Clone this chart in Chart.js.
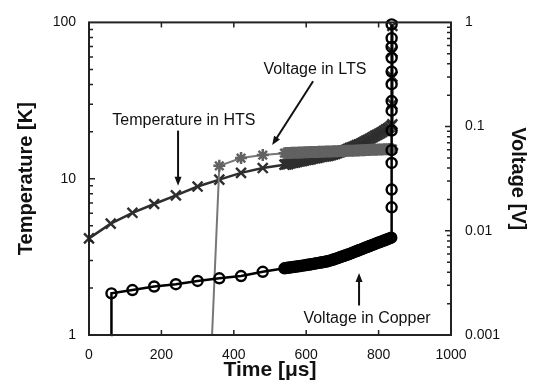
<!DOCTYPE html>
<html>
<head>
<meta charset="utf-8">
<script src="https://cdn.jsdelivr.net/npm/chart.js@4.4.0/dist/chart.umd.min.js"></script>
<style>
  body { margin: 0; background: #fff; }
  canvas { display: block; }
</style>
</head>
<body>
<canvas id="myChart" width="536" height="383"></canvas>
<script>
'use strict'

// temperature in the HTS tape [K], left axis
const htsTime = [0, 60, 120, 180, 240, 300, 360, 420, 480,
  540, 545, 550, 555, 560, 565, 570, 575, 580, 585,
  590, 595, 600, 605, 610, 615, 620, 625, 630, 635,
  640, 645, 650, 655, 660, 665, 670, 675, 680, 685,
  690, 695, 700, 705, 710, 715, 720, 725, 730, 735,
  740, 745, 750, 755, 760, 765, 770, 775, 780, 785,
  790, 795, 800, 805, 810, 815, 820, 825, 830, 835,
  838, 838, 838, 838, 838];
const htsTemp = [4.15, 5.16, 6.05, 6.89, 7.82, 8.91, 9.86, 10.9, 11.7,
  12.3, 12.35, 12.4, 12.5, 12.6, 12.65, 12.7, 12.8, 12.9, 12.95,
  13.0, 13.1, 13.2, 13.25, 13.3, 13.4, 13.5, 13.55, 13.6, 13.7,
  13.8, 13.85, 13.9, 13.95, 14.0, 14.1, 14.2, 14.3, 14.4, 14.55,
  14.7, 14.85, 15.0, 15.15, 15.3, 15.5, 15.7, 15.85, 16.0, 16.2,
  16.4, 16.55, 16.7, 16.95, 17.2, 17.45, 17.7, 17.95, 18.2, 18.5,
  18.8, 19.05, 19.3, 19.6, 19.9, 20.25, 20.6, 20.95, 21.3, 21.8,
  22.3, 30, 45, 65, 95];

// voltage in the LTS [V], right axis
const ltsTime = [340, 360, 420, 480,
  540, 545, 550, 555, 560, 565, 570, 575, 580, 585,
  590, 595, 600, 605, 610, 615, 620, 625, 630, 635,
  640, 645, 650, 655, 660, 665, 670, 675, 680, 685,
  690, 695, 700, 705, 710, 715, 720, 725, 730, 735,
  740, 745, 750, 755, 760, 765, 770, 775, 780, 785,
  790, 795, 800, 805, 810, 815, 820, 825, 830, 835, 838];
const ltsVolt = [0.001, 0.042, 0.0499, 0.0533,
  0.0556, 0.0557, 0.0558, 0.0559, 0.0560, 0.0561, 0.0562, 0.0562, 0.0563, 0.0564,
  0.0565, 0.0566, 0.0567, 0.0568, 0.0569, 0.0569, 0.0570, 0.0571, 0.0572, 0.0573,
  0.0574, 0.0574, 0.0575, 0.0576, 0.0577, 0.0577, 0.0578, 0.0579, 0.0580, 0.0581,
  0.0582, 0.0582, 0.0583, 0.0584, 0.0585, 0.0586, 0.0587, 0.0587, 0.0588, 0.0589,
  0.0590, 0.0591, 0.0592, 0.0593, 0.0594, 0.0595, 0.0596, 0.0597, 0.0598, 0.0599,
  0.0600, 0.0601, 0.0602, 0.0603, 0.0604, 0.0605, 0.0606, 0.0607, 0.0608, 0.0609, 0.0610];

// voltage in the copper [V], right axis
const cuTime = [61, 62, 120, 180, 240, 300, 360, 420, 480,
  540, 545, 550, 555, 560, 565, 570, 575, 580, 585,
  590, 595, 600, 605, 610, 615, 620, 625, 630, 635,
  640, 645, 650, 655, 660, 665, 670, 675, 680, 685,
  690, 695, 700, 705, 710, 715, 720, 725, 730, 735,
  740, 745, 750, 755, 760, 765, 770, 775, 780, 785,
  790, 795, 800, 805, 810, 815, 820, 825, 830, 835,
  836, 836, 836, 836, 836, 836, 836, 836, 836, 836, 836, 836, 836];
const cuVolt = [0.001, 0.00251, 0.0027, 0.00292, 0.00307, 0.0033, 0.0035, 0.00368, 0.00404,
  0.00437, 0.00440, 0.00442, 0.00445, 0.00447, 0.00450, 0.00452, 0.00455, 0.00457, 0.00460,
  0.00463, 0.00466, 0.00469, 0.00472, 0.00475, 0.00478, 0.00482, 0.00485, 0.00489, 0.00492,
  0.00496, 0.00499, 0.00503, 0.00507, 0.00511, 0.00517, 0.00523, 0.00530, 0.00537, 0.00544,
  0.00552, 0.00560, 0.00568, 0.00576, 0.00584, 0.00592, 0.00601, 0.00610, 0.00620, 0.00630,
  0.00640, 0.00650, 0.00660, 0.00670, 0.00681, 0.00692, 0.00703, 0.00714, 0.00725, 0.00736,
  0.00748, 0.00760, 0.00771, 0.00783, 0.00795, 0.00807, 0.00820, 0.00832, 0.00845, 0.00858,
  0.0168, 0.0249, 0.0448, 0.0594, 0.0916, 0.142, 0.176, 0.255, 0.337, 0.457, 0.581, 0.706, 0.957];

const timeTicks = [0, 200, 400, 600, 800, 1000];
const tempTicks = [1, 2, 3, 4, 5, 6, 7, 8, 9, 10, 20, 30, 40, 50, 60, 70, 80, 90, 100];
const tempLabels = {1: '1', 10: '10', 100: '100'};
const voltTicks = [0.001, 0.002, 0.003, 0.004, 0.005, 0.006, 0.007, 0.008, 0.009,
  0.01, 0.02, 0.03, 0.04, 0.05, 0.06, 0.07, 0.08, 0.09,
  0.1, 0.2, 0.3, 0.4, 0.5, 0.6, 0.7, 0.8, 0.9, 1];
const voltLabels = {0.001: '0.001', 0.01: '0.01', 0.1: '0.1', 1: '1'};

const FONT = '"Liberation Sans", Arial, sans-serif';
Chart.defaults.font.family = FONT;
Chart.defaults.color = '#111';

function toPoints(xs, ys){
  return xs.map((x, i) => ({x: x, y: ys[i]}));
}

function drawArrow(ctx, x1, y1, x2, y2){
  const ang = Math.atan2(y2 - y1, x2 - x1);
  const len = 9, half = 3.5;
  ctx.beginPath();
  ctx.moveTo(x1, y1);
  ctx.lineTo(x2 - Math.cos(ang) * len * 0.8, y2 - Math.sin(ang) * len * 0.8);
  ctx.stroke();
  ctx.beginPath();
  ctx.moveTo(x2, y2);
  ctx.lineTo(x2 - Math.cos(ang) * len - Math.sin(ang) * half, y2 - Math.sin(ang) * len + Math.cos(ang) * half);
  ctx.lineTo(x2 - Math.cos(ang) * len + Math.sin(ang) * half, y2 - Math.sin(ang) * len - Math.cos(ang) * half);
  ctx.closePath();
  ctx.fill();
}

// frame, inward tick marks and the three labels with arrows
const frameAndNotes = {
  id: 'frameAndNotes',
  afterDatasetsDraw(chart){
    const ctx = chart.ctx;
    const a = chart.chartArea;
    const xs = chart.scales.x, yT = chart.scales.yT, yV = chart.scales.yV;
    ctx.save();
    ctx.strokeStyle = '#222';
    ctx.lineWidth = 2;
    ctx.strokeRect(a.left, a.top, a.right - a.left, a.bottom - a.top);

    ctx.lineWidth = 1.5;
    ctx.beginPath();
    for (let v of timeTicks.slice(1, -1)){
      const px = xs.getPixelForValue(v);
      ctx.moveTo(px, a.bottom); ctx.lineTo(px, a.bottom - 5);
      ctx.moveTo(px, a.top); ctx.lineTo(px, a.top + 5);
    }
    for (let v of tempTicks.slice(1, -1)){
      const py = yT.getPixelForValue(v);
      const len = tempLabels[v] ? 6 : 4;
      ctx.moveTo(a.left, py); ctx.lineTo(a.left + len, py);
    }
    for (let v of voltTicks.slice(1, -1)){
      const py = yV.getPixelForValue(v);
      const len = voltLabels[v] ? 6 : 4;
      ctx.moveTo(a.right, py); ctx.lineTo(a.right - len, py);
    }
    ctx.stroke();

    ctx.fillStyle = '#111';
    ctx.strokeStyle = '#111';
    ctx.lineWidth = 2;
    ctx.font = '16px ' + FONT;
    ctx.textAlign = 'center';
    ctx.textBaseline = 'middle';

    ctx.fillText('Temperature in HTS', xs.getPixelForValue(262), yT.getPixelForValue(23.5));
    drawArrow(ctx, xs.getPixelForValue(246), yT.getPixelForValue(20.3),
      xs.getPixelForValue(246), yT.getPixelForValue(9.0));

    ctx.fillText('Voltage in LTS', xs.getPixelForValue(624), yT.getPixelForValue(49.9));
    drawArrow(ctx, xs.getPixelForValue(619), yT.getPixelForValue(42),
      xs.getPixelForValue(506), yT.getPixelForValue(16.4));

    ctx.fillText('Voltage in Copper', xs.getPixelForValue(768), yV.getPixelForValue(0.00145));
    drawArrow(ctx, xs.getPixelForValue(746), yV.getPixelForValue(0.00192),
      xs.getPixelForValue(746), yV.getPixelForValue(0.00393));
    ctx.restore();
  }
};

const ctx = document.getElementById('myChart').getContext('2d');

const myChart = new Chart(ctx, {
  type: 'line',
  data: {
    datasets: [
      {
        label: 'Voltage in Copper',
        data: toPoints(cuTime, cuVolt),
        yAxisID: 'yV',
        order: 0,
        borderColor: '#000',
        borderWidth: 2.5,
        pointStyle: 'circle',
        pointRadius: c => c.dataIndex === 0 ? 0 : 5,
        pointBorderWidth: 2.4,
        pointBorderColor: '#000',
        pointBackgroundColor: 'rgba(0,0,0,0)'
      },
      {
        label: 'Voltage in LTS',
        data: toPoints(ltsTime, ltsVolt),
        yAxisID: 'yV',
        order: 1,
        borderColor: '#777',
        borderWidth: 2,
        pointStyle: 'star',
        pointRadius: c => c.dataIndex === 0 ? 0 : 6,
        pointBorderWidth: 2.5,
        pointBorderColor: '#626262',
        pointBackgroundColor: '#626262'
      },
      {
        label: 'Temperature in HTS',
        data: toPoints(htsTime, htsTemp),
        yAxisID: 'yT',
        order: 2,
        borderColor: '#2e2e2e',
        borderWidth: 2.5,
        pointStyle: 'crossRot',
        pointRadius: 7,
        pointBorderWidth: 2.4,
        pointBorderColor: '#2e2e2e',
        pointBackgroundColor: '#2e2e2e'
      }
    ]
  },
  options: {
    responsive: false,
    devicePixelRatio: 1,
    animation: false,
    clip: false,
    layout: { padding: { top: 17, left: 0, right: 0, bottom: 0 } },
    elements: { line: { tension: 0 } },
    plugins: { legend: { display: false }, tooltip: { enabled: false } },
    scales: {
      x: {
        type: 'linear',
        min: 0,
        max: 1000,
        afterBuildTicks: s => { s.ticks = timeTicks.map(v => ({value: v})); },
        ticks: { font: { size: 14 }, padding: 12, maxRotation: 0, autoSkip: false, callback: v => String(v) },
        grid: { display: false, drawTicks: false },
        border: { display: false },
        title: { display: true, text: 'Time [μs]', font: { size: 21, weight: 'bold' }, padding: { top: 0, bottom: 0 } },
        afterFit: s => { s.height = 48; }
      },
      yT: {
        type: 'logarithmic',
        position: 'left',
        min: 1,
        max: 100,
        afterBuildTicks: s => { s.ticks = tempTicks.map(v => ({value: v})); },
        ticks: { font: { size: 14 }, padding: 13, autoSkip: false, callback: v => tempLabels[v] || '' },
        grid: { display: false, drawTicks: false },
        border: { display: false },
        title: { display: true, text: 'Temperature [K]', font: { size: 20, weight: 'bold' }, padding: { top: 14, bottom: 0 } },
        afterFit: s => { s.width = 89; }
      },
      yV: {
        type: 'logarithmic',
        position: 'right',
        min: 0.001,
        max: 1,
        afterBuildTicks: s => { s.ticks = voltTicks.map(v => ({value: v})); },
        ticks: { font: { size: 14 }, padding: 14, autoSkip: false, callback: v => voltLabels[v] || '' },
        grid: { display: false, drawTicks: false },
        border: { display: false },
        title: { display: true, text: 'Voltage [V]', font: { size: 20, weight: 'bold' }, padding: { top: 6, bottom: 0 } },
        afterFit: s => { s.width = 85; }
      }
    }
  },
  plugins: [frameAndNotes]
});
</script>
</body>
</html>
